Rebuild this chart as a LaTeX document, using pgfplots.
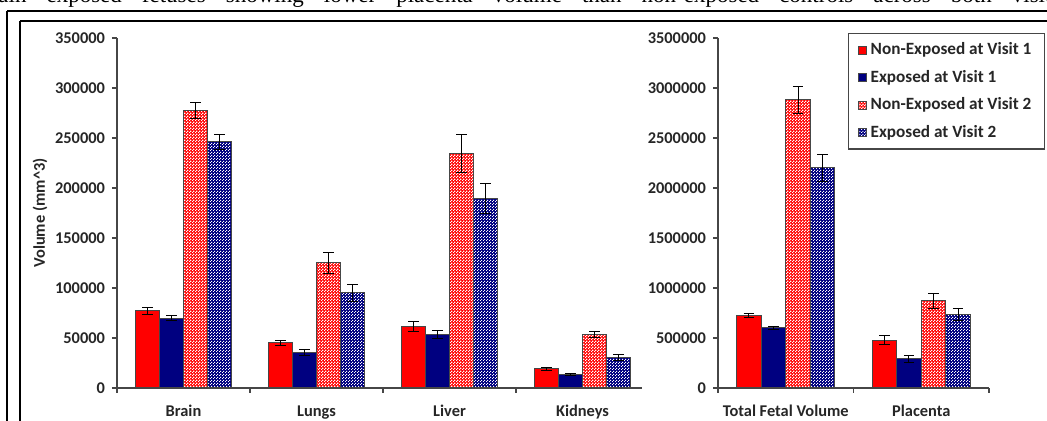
\documentclass[border=0pt]{standalone}
\usepackage{fontspec}
\setmainfont{Carlito}
\newfontfamily\capfont{Liberation Serif}
\usepackage{pgfplots}
\pgfplotsset{compat=1.18}
\usetikzlibrary{patterns}
\definecolor{myred}{RGB}{255,0,0}
\definecolor{mynavy}{RGB}{0,0,128}
\definecolor{axgray}{RGB}{70,70,70}
\definecolor{txt}{RGB}{38,38,38}
\pgfdeclarepatternformonly{pinkdots}{\pgfpointorigin}{\pgfqpoint{1.5pt}{1.5pt}}{\pgfqpoint{1.5pt}{1.5pt}}{%
  \pgfpathrectangle{\pgfqpoint{0pt}{0pt}}{\pgfqpoint{0.75pt}{0.75pt}}%
  \pgfpathrectangle{\pgfqpoint{0.75pt}{0.75pt}}{\pgfqpoint{0.75pt}{0.75pt}}%
  \pgfusepath{fill}}
\pgfdeclarepatternformonly{bluedots}{\pgfpointorigin}{\pgfqpoint{1.5pt}{1.5pt}}{\pgfqpoint{1.5pt}{1.5pt}}{%
  \pgfpathrectangle{\pgfqpoint{0pt}{0pt}}{\pgfqpoint{0.6pt}{0.6pt}}%
  \pgfpathrectangle{\pgfqpoint{0.75pt}{0.75pt}}{\pgfqpoint{0.6pt}{0.6pt}}%
  \pgfusepath{fill}}
\pgfplotsset{
  s1/.style={fill=myred, draw=axgray, line width=0.5pt},
  s2/.style={fill=mynavy, draw=axgray, line width=0.5pt},
  s3/.style={fill=myred, draw=axgray, line width=0.5pt, postaction={pattern=pinkdots, pattern color=white}},
  s4/.style={fill=mynavy, draw=axgray, line width=0.5pt, postaction={pattern=bluedots, pattern color=white}},
  common/.style={
    scale only axis,
    anchor=south west,
    ybar=0pt,
    axis lines*=left,
    axis line style={draw=axgray, line width=0.75pt, -},
    ymin=0,
    tick align=outside,
    major tick length=2.5pt,
    minor tick length=2.5pt,
    major x tick style={draw=none},
    minor x tick style={draw=axgray, line width=0.75pt},
    y tick style={draw=axgray, line width=0.75pt},
    xtick={0,1,2,3},
    scaled y ticks=false,
    /pgf/number format/assume math mode=true,
    yticklabel style={font=\bfseries\fontsize{8.2}{9}\selectfont, text=txt, /pgf/number format/.cd, fixed, precision=0, 1000 sep={}},
    xticklabel style={font=\bfseries\fontsize{8.2}{9}\selectfont, text=txt, anchor=base, yshift=-12pt},
    error bars/y dir=both,
    error bars/y explicit,
    error bars/error bar style={black, line width=0.5pt},
    error bars/error mark options={rotate=90, black, mark size=2.6pt, line width=0.5pt},
  },
}
\begin{document}
\begin{tikzpicture}
% caption line (cut off at top)
\node[anchor=base west, inner sep=0pt, font=\capfont\fontsize{11.5}{12}\selectfont] at ({-1pt},{(421-2.5)*0.5pt})
  {\makebox[531pt][s]{ain exposed fetuses showing lower placenta volume than non-exposed controls across both visits}};
% frames
\draw[black, line width=0.8pt] ({7*0.5pt},{(421-11)*0.5pt}) -- ({1070*0.5pt},{(421-11)*0.5pt});
\draw[black, line width=0.8pt] ({7*0.5pt},{(421-11)*0.5pt}) -- ({7*0.5pt},{-20pt});
\draw[black, line width=1pt] ({20*0.5pt},{(421-21.5)*0.5pt}) -- ({1070*0.5pt},{(421-21.5)*0.5pt});
\draw[black, line width=1pt] ({20*0.5pt},{(421-21.5)*0.5pt}) -- ({20*0.5pt},{-20pt});

% left chart
\begin{axis}[common,
  at={({117*0.5pt},{33*0.5pt})},
  width=262.5pt, height=175pt,
  xmin=-0.5, xmax=3.447,
  ymax=350000,
  ytick={0,50000,100000,150000,200000,250000,300000,350000},
  minor xtick={-0.5,0.5,1.5,2.5},
  xticklabels={Brain,Lungs,Liver,Kidneys},
  bar width=12pt,
  ylabel={Volume (mm\^{}3)},
  ylabel style={at={(axis description cs:-0.1467,0.5)}, anchor=center, font=\bfseries\fontsize{8.2}{9}\selectfont, text=txt},
]
\addplot[s1] coordinates {(0,77000) +- (0,3700) (1,45000) +- (0,2500) (2,61500) +- (0,5000) (3,19000) +- (0,1700)};
\addplot[s2] coordinates {(0,69500) +- (0,2500) (1,35500) +- (0,2600) (2,53500) +- (0,4000) (3,13500) +- (0,900)};
\addplot[s3] coordinates {(0,277500) +- (0,8300) (1,125000) +- (0,10500) (2,234000) +- (0,19000) (3,53500) +- (0,3000)};
\addplot[s4] coordinates {(0,246000) +- (0,7500) (1,95000) +- (0,8700) (2,189000) +- (0,15000) (3,30500) +- (0,2700)};
\end{axis}

% right chart
\begin{axis}[common,
  at={({718*0.5pt},{33*0.5pt})},
  width=135.5pt, height=175pt,
  xmin=-0.5, xmax=1.5,
  ymax=3500000,
  ytick={0,500000,1000000,1500000,2000000,2500000,3000000,3500000},
  xtick={0,1},
  minor xtick={-0.5,0.5,1.5},
  xticklabels={Total Fetal Volume,Placenta},
  bar width=12.3pt,
  legend style={at={({(1045-718)/271},{(388-33)/350})}, anchor=north east,
    draw=axgray, line width=0.6pt, fill=white,
    font=\bfseries\fontsize{8.6}{9.5}\selectfont, text=txt,
    row sep=2.2pt, inner xsep=4.5pt, inner ysep=2.5pt,
    /tikz/every even column/.append style={column sep=1pt}},
  legend cell align=left,
  legend image code/.code={\draw[#1, line width=0.4pt] (0pt,-2pt) rectangle (4pt,2pt);},
]
\addplot[s1] coordinates {(0,723000) +- (0,22000) (1,478000) +- (0,42000)};
\addplot[s2] coordinates {(0,600000) +- (0,12000) (1,290000) +- (0,35000)};
\addplot[s3] coordinates {(0,2880000) +- (0,133000) (1,870000) +- (0,75000)};
\addplot[s4] coordinates {(0,2200000) +- (0,135000) (1,737000) +- (0,58000)};
\legend{Non-Exposed at Visit 1, Exposed at Visit 1, Non-Exposed at Visit 2, Exposed at Visit 2}
\end{axis}

\pgfresetboundingbox
\path[use as bounding box] (0,0) rectangle ({1047*0.5pt},{421*0.5pt});
\end{tikzpicture}
\end{document}
